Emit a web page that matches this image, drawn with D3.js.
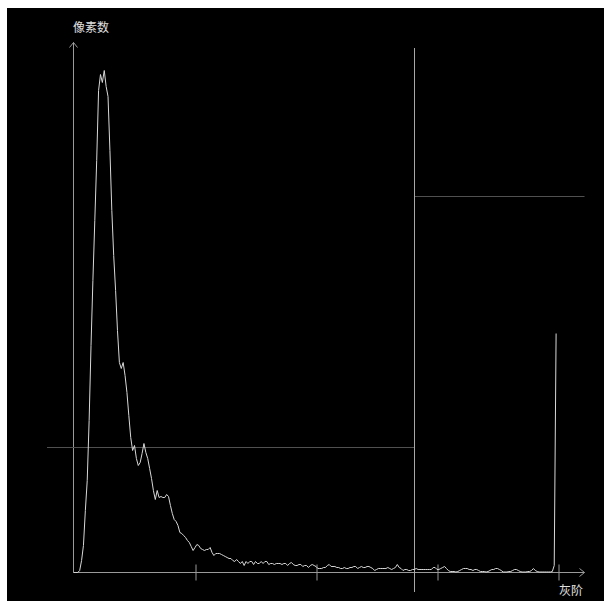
<!DOCTYPE html>
<html>
<head>
<meta charset="utf-8">
<script src="https://cdn.jsdelivr.net/npm/d3@7"></script>
<style>
  html, body { margin: 0; padding: 0; background: #fff; }
  svg { display: block; }
  text { font-family: "Noto Sans CJK SC", sans-serif; }
</style>
</head>
<body>
<svg id="chart" width="605" height="602"></svg>
<script>
// gray level histogram, 256 bins (pixel counts)
var counts = [
  0, 0, 0, 20, 120, 270, 620, 920, 1520, 2270,
  2920, 3520, 4120, 4820, 4980, 4900, 5020, 4860, 4760, 4220,
  3620, 3170, 2820, 2420, 2100, 2040, 2100, 1970, 1800, 1570,
  1350, 1220, 1270, 1140, 1070, 1100, 1190, 1290, 1200, 1140,
  1040, 940, 820, 730, 820, 750, 760, 750, 750, 780,
  760, 670, 590, 530, 510, 470, 400, 390, 370, 350,
  320, 300, 260, 220, 250, 280, 270, 240, 230, 220,
  230, 230, 250, 200, 170, 190, 190, 190, 180, 170,
  160, 150, 140, 140, 120, 110, 130, 110, 90, 110,
  70, 110, 90, 110, 110, 80, 110, 90, 90, 110,
  90, 110, 110, 80, 90, 90, 80, 90, 90, 90,
  80, 90, 90, 70, 90, 100, 80, 70, 70, 80,
  80, 60, 70, 70, 50, 70, 80, 70, 60, 40,
  40, 40, 50, 50, 70, 80, 60, 60, 60, 50,
  50, 40, 40, 50, 40, 40, 50, 50, 60, 60,
  40, 50, 60, 50, 50, 60, 60, 50, 40, 20,
  30, 40, 40, 40, 40, 40, 50, 40, 30, 40,
  50, 80, 50, 40, 20, 30, 30, 20, 20, 30,
  30, 40, 30, 30, 30, 30, 30, 30, 30, 30,
  50, 50, 30, 30, 40, 50, 60, 40, 20, 10,
  10, 10, 5, 10, 20, 30, 40, 40, 40, 30,
  30, 20, 30, 30, 20, 10, 10, 10, 5, 10,
  20, 30, 30, 40, 40, 30, 20, 5, 5, 5,
  10, 10, 20, 30, 30, 20, 10, 5, 5, 5,
  10, 10, 20, 40, 20, 10, 5, 5, 5, 5,
  5, 5, 5, 10, 70, 2390
]
var xTicks = [64, 128, 192, 256]
var threshold = 180
var levels = [1260, 3770]   // below / above threshold
var yLabel = '像素数'
var xLabel = '灰阶'

var svg = d3.select('#chart')

svg.append('rect')
  .attr('x', 7).attr('y', 8)
  .attr('width', 597).attr('height', 593)
  .attr('fill', '#000')

var x = d3.scaleLinear().domain([0, 256]).range([74, 558])
var y = d3.scaleLinear().domain([0, 5300]).range([572.5, 42.5])

var AXIS = '#9a9a9a'
var xEnd = 584.5
var yTop = 42.5

// axes with arrows
svg.append('line')
  .attr('x1', 73.5).attr('x2', 73.5)
  .attr('y1', yTop).attr('y2', 573)
  .attr('stroke', AXIS)
svg.append('path')
  .attr('d', 'M69.5,' + (yTop + 5) + 'L73.5,' + yTop + 'L77.5,' + (yTop + 5))
  .attr('fill', 'none').attr('stroke', AXIS)
svg.append('line')
  .attr('x1', 73).attr('x2', xEnd)
  .attr('y1', 572.5).attr('y2', 572.5)
  .attr('stroke', AXIS)
svg.append('path')
  .attr('d', 'M' + (xEnd - 5) + ',568.5L' + xEnd + ',572.5L' + (xEnd - 5) + ',576.5')
  .attr('fill', 'none').attr('stroke', AXIS)

var xAxis = svg.append('g')
  .attr('transform', 'translate(0.5,572.5)')
  .call(d3.axisBottom(x).tickValues(xTicks).tickSize(8).tickFormat(''))
xAxis.select('.domain').remove()
xAxis.selectAll('.tick line')
  .attr('y1', -8)
  .attr('stroke', AXIS)

// threshold lines
var tx = Math.round(x(threshold)) + 0.5
svg.append('line')
  .attr('x1', 47).attr('x2', tx)
  .attr('y1', Math.round(y(levels[0])) + 0.5).attr('y2', Math.round(y(levels[0])) + 0.5)
  .attr('stroke', '#505050')
svg.append('line')
  .attr('x1', tx).attr('x2', xEnd)
  .attr('y1', Math.round(y(levels[1])) + 0.5).attr('y2', Math.round(y(levels[1])) + 0.5)
  .attr('stroke', '#505050')
svg.append('line')
  .attr('x1', tx).attr('x2', tx)
  .attr('y1', 48).attr('y2', 592)
  .attr('stroke', '#a8a8a8')

// histogram curve
var line = d3.line()
  .x(function(d, i) { return x(i) })
  .y(function(d) { return y(d) })
svg.append('path')
  .datum(counts)
  .attr('d', line)
  .attr('fill', 'none')
  .attr('stroke', '#d8d8d8')
  .attr('stroke-width', 1)

// labels
svg.append('text')
  .attr('x', 73).attr('y', 32)
  .attr('fill', '#e0e0e0')
  .attr('font-size', 12)
  .text(yLabel)
svg.append('text')
  .attr('x', 559).attr('y', 595)
  .attr('fill', '#e0e0e0')
  .attr('font-size', 12)
  .text(xLabel)
</script>
</body>
</html>
